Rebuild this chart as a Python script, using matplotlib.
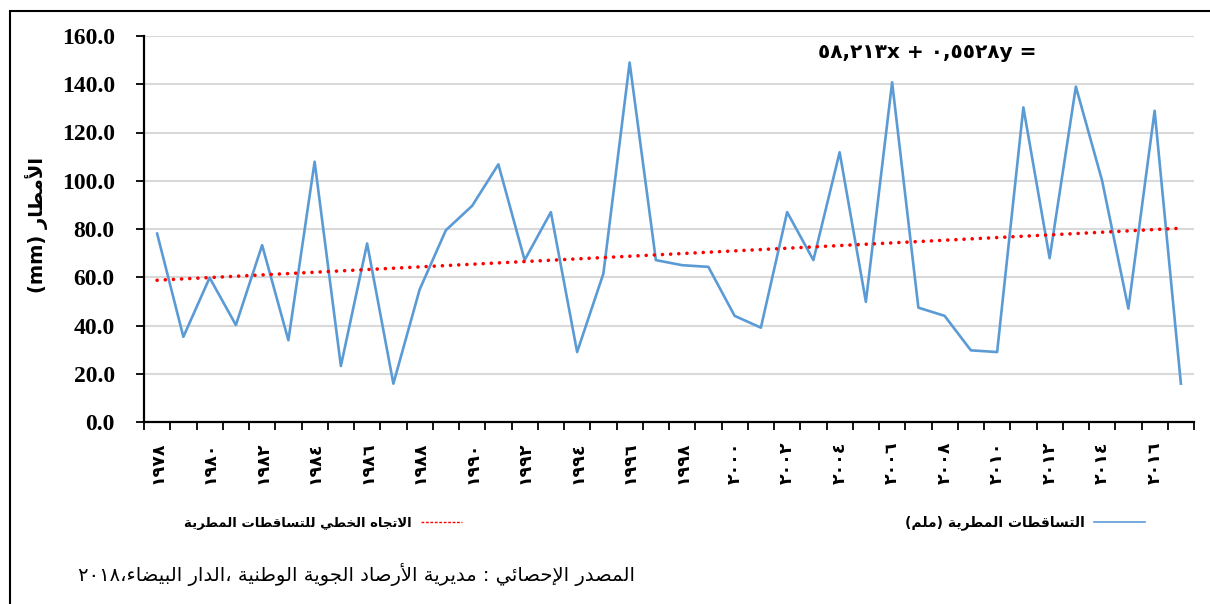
"""Annual rainfall (mm) 1978-2017 with linear trend line."""

import re
import numpy as np
import matplotlib
matplotlib.use("Agg")
import matplotlib.pyplot as plt
from matplotlib.lines import Line2D
from matplotlib.patches import Rectangle
from matplotlib.ticker import FormatStrFormatter

years = list(range(1978, 2018))
rain_mm = [78.1, 35.3, 59.8, 40.2, 73.3, 33.9, 107.9, 23.2, 74.0, 15.9,
           54.9, 79.5, 89.6, 106.8, 67.1, 87.0, 29.0, 61.5, 149.0, 67.1,
           65.0, 64.3, 44.0, 39.1, 87.0, 67.1, 111.8, 49.8, 140.8, 47.4,
           44.0, 29.7, 29.0, 130.4, 67.9, 139.0, 100.0, 47.0, 129.0, 15.9]
tick_years = years[::2]

# trend line as printed on the chart: y = 0.5528x + 58.213
trend_slope = 0.5528
trend_icept = 58.213
eq_text = "٥٨,٢١٣x + ٠,٥٥٢٨y ="

ylabel_ar = "الأمطار"
legend_rain = "التساقطات المطرية (ملم)"
legend_trend = "الاتجاه الخطي للتساقطات المطرية"
source_text = "المصدر الإحصائي : مديرية الأرصاد الجوية الوطنية ،الدار البيضاء،٢٠١٨"

# --- tiny Arabic shaper (matplotlib has no complex text layout) ---
AR_BASE = {"ء": 0xFE80, "آ": 0xFE81, "أ": 0xFE83, "ؤ": 0xFE85, "إ": 0xFE87,
           "ئ": 0xFE89, "ا": 0xFE8D, "ب": 0xFE8F, "ة": 0xFE93, "ت": 0xFE95,
           "ث": 0xFE99, "ج": 0xFE9D, "ح": 0xFEA1, "خ": 0xFEA5, "د": 0xFEA9,
           "ذ": 0xFEAB, "ر": 0xFEAD, "ز": 0xFEAF, "س": 0xFEB1, "ش": 0xFEB5,
           "ص": 0xFEB9, "ض": 0xFEBD, "ط": 0xFEC1, "ظ": 0xFEC5, "ع": 0xFEC9,
           "غ": 0xFECD, "ف": 0xFED1, "ق": 0xFED5, "ك": 0xFED9, "ل": 0xFEDD,
           "م": 0xFEE1, "ن": 0xFEE5, "ه": 0xFEE9, "و": 0xFEED, "ى": 0xFEEF,
           "ي": 0xFEF1}
AR_DUAL = set("ئبتثجحخسشصضطظعغفقكلمنهي")
LAM_ALEF = {"ا": 0xFEFB, "أ": 0xFEF7, "إ": 0xFEF9, "آ": 0xFEF5}


def ar(text):
    out = []
    i = 0
    n = len(text)
    while i < n:
        c = text[i]
        linked = i > 0 and text[i - 1] in AR_DUAL
        if c == "ل" and i + 1 < n and text[i + 1] in LAM_ALEF:
            out.append(chr(LAM_ALEF[text[i + 1]] + (1 if linked else 0)))
            i += 2
            continue
        if c in AR_BASE:
            nxt = text[i + 1] if i + 1 < n else ""
            to_next = c in AR_DUAL and nxt in AR_BASE and nxt != "ء"
            b = AR_BASE[c]
            if linked and c != "ء":
                code = b + 3 if to_next else b + 1
            else:
                code = b + 2 if to_next else b
            out.append(chr(code))
        else:
            out.append({"(": ")", ")": "("}.get(c, c))
        i += 1
    vis = "".join(reversed(out))
    return re.sub(r"[0-9\u0660-\u0669]+", lambda m: m.group(0)[::-1], vis)


def ar_digits(s):
    return "".join(chr(0x0660 + int(d)) for d in s)


plt.rcParams["font.family"] = ["DejaVu Sans"]

W, H = 1210, 604
fig = plt.figure(figsize=(W / 100, H / 100), dpi=100)
ax = fig.add_axes([144 / W, 1 - 422 / H, 1050 / W, 386 / H])

x = np.arange(len(years))
ax.plot(x, rain_mm, color="#5b9bd5", lw=1.9, zorder=3)
trend = trend_slope * (x + 1) + trend_icept
ax.plot(x, trend, color="#ff0000", lw=2.6, linestyle=(0, (0.01, 2.25)),
        dash_capstyle="round", zorder=4)

ax.set_xlim(-0.5, len(years) - 0.5)
ax.set_ylim(0, 160)
ax.set_yticks(np.arange(0, 161, 20))
ax.yaxis.set_major_formatter(FormatStrFormatter("%.1f"))
ax.grid(axis="y", color="#d9d9d9", lw=1.5)
ax.set_axisbelow(True)
for s in ("top", "right"):
    ax.spines[s].set_visible(False)
for s in ("left", "bottom"):
    ax.spines[s].set_linewidth(1.6)

# tick marks between categories, labels on every second year
ax.set_xticks(np.arange(-0.5, len(years)), labels=[])
ax.set_xticks([years.index(y) for y in tick_years], minor=True,
              labels=[ar_digits(str(y)) for y in tick_years])
ax.tick_params(axis="x", which="major", length=6, width=1.3, direction="out")
ax.tick_params(axis="x", which="minor", length=0, pad=14)
for lab in ax.get_xticklabels(minor=True):
    lab.set_rotation(90)
    lab.set_fontsize(12.5)
    lab.set_fontweight("bold")

ax.tick_params(axis="y", length=6, width=1.3, pad=15)
for lab in ax.get_yticklabels():
    lab.set_fontfamily("Liberation Serif")
    lab.set_fontweight("bold")
    lab.set_fontsize(17)

ax.set_ylabel("(mm) " + ar(ylabel_ar), fontsize=14, fontweight="bold")
ax.yaxis.set_label_coords((48 - 144) / 1050, (422 - 225) / 386)

fig.text(927 / W, 1 - 52 / H, eq_text, ha="center", va="center",
         fontsize=14.5, fontweight="bold")

# legends, right-to-left (text left of the sample)
h_rain = Line2D([], [], color="#5b9bd5", lw=1.2)
h_trend = Line2D([], [], color="#ff0000", lw=1.0, linestyle=(0, (2, 1.2)))
fig.legend([h_rain], [ar(legend_rain)], loc="center right",
           bbox_to_anchor=(1145 / W, 1 - 523 / H), frameon=False,
           markerfirst=False, borderpad=0, borderaxespad=0,
           handlelength=3.7, handletextpad=0.6,
           prop={"size": 10, "weight": "bold"})
fig.legend([h_trend], [ar(legend_trend)], loc="center right",
           bbox_to_anchor=(462 / W, 1 - 523 / H), frameon=False,
           markerfirst=False, borderpad=0, borderaxespad=0,
           handlelength=3.1, handletextpad=0.75,
           prop={"size": 9.5, "weight": "bold"})

fig.text(635 / W, 1 - 575 / H, ar(source_text), ha="right", va="center",
         fontsize=14)

# outer frame (runs off the right and bottom edges)
fig.add_artist(Rectangle((10 / W, -0.1), 1.2, 1.1 - 11 / H, fill=False,
                         edgecolor="black", lw=1.5,
                         transform=fig.transFigure, clip_on=False))

fig.savefig("out.png", dpi=100)
